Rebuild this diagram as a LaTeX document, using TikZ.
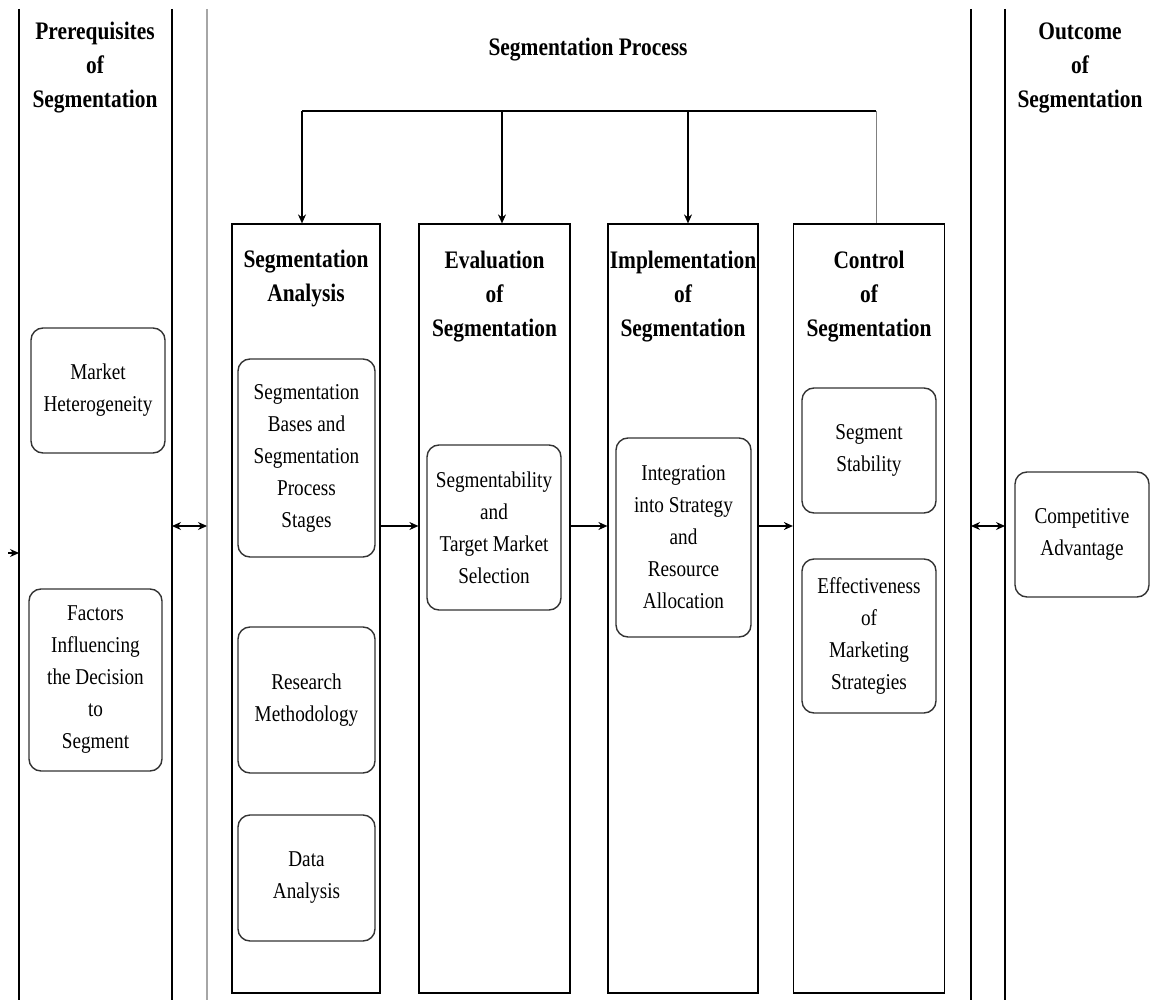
\documentclass[tikz,border=0pt]{standalone}
\usepackage{fontspec}
\setmainfont{Liberation Serif}[FakeStretch=0.85]
\usetikzlibrary{arrows.meta}

\tikzset{
  stage/.style={draw, line width=0.6pt, minimum width=75pt, minimum height=384.5pt, inner sep=0pt},
  item/.style={draw=black!80, line width=0.7pt, rounded corners=6pt, align=center, inner sep=0pt,
    font=\fontsize{11.3}{16}\selectfont},
  heading/.style={align=center, font=\fontsize{12.6}{17}\selectfont\bfseries},
  flow/.style={-{Stealth[length=4.5pt,width=4pt]}, line width=0.6pt},
  both/.style={{Stealth[length=4.5pt,width=4pt]}-{Stealth[length=4.5pt,width=4pt]}, line width=0.6pt},
  panel/.style={line width=0.9pt},
}

\begin{document}
\begin{tikzpicture}[x=0.5pt, y=-0.5pt]
            \useasboundingbox (0,0) rectangle (1156,1000);

            % panel borders
            \coordinate (p1) at (19,9);
            \coordinate (p2) at (172,9);
            \coordinate (p3) at (207,9);
            \coordinate (p4) at (971,9);
            \coordinate (p5) at (1005,9);
            \coordinate (bot) at (0,1000);
            \draw[panel] (p1) -- (p1 |- bot);
            \draw[panel] (p2) -- (p2 |- bot);
            \draw[gray!70, line width=0.7pt] (p3) -- (p3 |- bot);
            \draw[panel] (p4) -- (p4 |- bot);
            \draw[panel] (p5) -- (p5 |- bot);

            \node[heading] (pre-t) at (95,68) {Prerequisites\\of\\Segmentation};
            \node[heading] (proc-t) at (588,50) {Segmentation Process};
            \node[heading] (out-t) at (1080,68) {Outcome\\of\\Segmentation};

            % stages
            \node[stage, minimum width=74pt] (sa) at (306,608.5) {};
            \node[stage, minimum width=75.5pt] (ev) at (494.5,608.5) {};
            \node[stage] (im) at (683,608.5) {};
            \node[stage, minimum width=75.5pt] (ct) at (869,608.5) {};

            \node[heading] (sa-t) at (306,278) {Segmentation\\Analysis};
            \node[heading] (ev-t) at (494.5,297) {Evaluation\\of\\Segmentation};
            \node[heading] (im-t) at (683,297) {Implementation\\of\\Segmentation};
            \node[heading] (ct-t) at (869,297) {Control\\of\\Segmentation};

            % items
            \node[item, minimum width=67pt, minimum height=62.5pt] (mh) at (98,390.5) {Market\\Heterogeneity};
            \node[item, minimum width=66.5pt, minimum height=91pt] (fi) at (95.5,680) {Factors\\Influencing\\the Decision\\to\\Segment};

            \node[item, minimum width=68.5pt, minimum height=99pt] (sb) at (306.5,458) {Segmentation\\Bases and\\Segmentation\\Process\\Stages};
            \node[item, minimum width=68.5pt, minimum height=73pt] (rm) at (306.5,700) {Research\\Methodology};
            \node[item, minimum width=68.5pt, minimum height=63pt] (da) at (306.5,878) {Data\\Analysis};

            \node[item, minimum width=67pt, minimum height=82.5pt] (sm) at (494,527.5) {Segmentability\\and\\Target Market\\Selection};
            \node[item, minimum width=67.5pt, minimum height=99.5pt] (ir) at (683.5,537.5) {Integration\\into Strategy\\and\\Resource\\Allocation};

            \node[item, minimum width=67pt, minimum height=62.5pt] (ss) at (869,450.5) {Segment\\Stability};
            \node[item, minimum width=67pt, minimum height=77pt] (ef) at (869,636) {Effectiveness\\of\\Marketing\\Strategies};

            \node[item, minimum width=67pt, minimum height=62.5pt] (ca) at (1082,534.5) {Competitive\\Advantage};

            % feedback loop on top
            \coordinate (t1) at (302,111);
            \coordinate (t2) at (502,111);
            \coordinate (t3) at (688,111);
            \coordinate (t4) at (876,111);
            \draw[line width=0.9pt] (t1) -- (t4);
            \draw[flow, line width=0.9pt] (t1) -- (t1 |- sa.north);
            \draw[flow] (t2) -- (t2 |- ev.north);
            \draw[flow] (t3) -- (t3 |- im.north);
            \draw[gray, line width=0.5pt] (t4) -- (t4 |- ct.north);

            % flow between stages
            \coordinate (mid) at (0,526);
            \draw[flow] (sa.east |- mid) -- (ev.west |- mid);
            \draw[flow] (ev.east |- mid) -- (im.west |- mid);
            \draw[flow] (im.east |- mid) -- (ct.west |- mid);
            \draw[both] (p2 |- mid) -- (p3 |- mid);
            \draw[both] (p4 |- mid) -- (p5 |- mid);

            \coordinate (in) at (8,553);
            \draw[flow] (in) -- (p1 |- in);
        \end{tikzpicture}
\end{document}
